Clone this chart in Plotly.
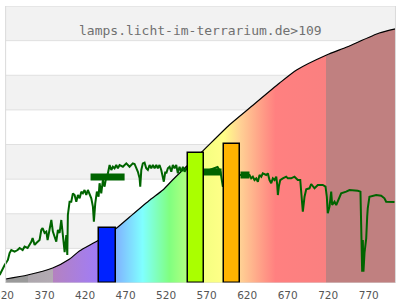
import plotly.graph_objects as go

# ---- data ----
# spectral response curve (area under it is coloured by wavelength)
curve_nm = [322, 349, 380, 401, 413, 437, 459, 475, 500, 516, 528, 547, 564, 598, 623, 660, 681, 718, 743, 783, 803]
curve_val = [0.116, 0.231, 0.433, 0.693, 0.924, 1.242, 1.588, 1.906, 2.397, 2.686, 2.975, 3.408, 3.783,
             4.563, 5.054, 5.776, 6.152, 6.585, 6.816, 7.220, 7.34]

# band bars
bar_nm = [447.8, 556.7, 601.4]
bar_width = [21.4, 19.8, 20.3]
bar_val = [1.58, 3.75, 4.01]
bar_colors = ["#0022ff", "#aaff00", "#ffb400"]

# lamp spectrum (relative intensity)
spec_nm = [314.6, 318.7, 320.8, 324.8, 326.9, 329.0, 333.1, 336.8, 339.3, 343.0, 345.4, 349.1, 353.7, 355.3,
           357.8, 359.9, 363.9, 366.0, 367.6, 370.1, 372.2, 373.8, 376.3, 378.4, 380.3, 382.4, 384.5, 386.5,
           388.6, 390.7, 392.7, 394.8, 396.9, 398.1, 398.8, 399.7, 400.9, 403.0, 405.0, 407.1, 409.2, 411.2,
           413.3, 415.4, 417.3, 419.4, 421.5, 423.5, 425.6, 427.7, 429.7, 430.9, 432.6, 434.6, 436.7, 437.9,
           440.0, 442.0, 444.1, 446.2, 448.2, 450.3, 452.4, 454.3, 456.4, 458.5, 460.5, 462.6, 466.7, 470.9,
           474.9, 479.0, 481.1, 485.2, 487.3, 488.1, 489.4, 491.3, 493.4, 495.5, 497.5, 499.6, 501.7, 503.7,
           505.8, 507.9, 509.8, 511.9, 514.0, 516.0, 517.2, 519.0, 520.2, 522.2, 524.3, 526.4, 528.3, 530.4,
           532.5, 534.5, 536.6, 538.7, 540.7, 542.8, 544.9, 546.8, 556.3, 567.4, 573.6, 579.8, 583.5, 587.2,
           590.0, 600.7, 611.8, 622.9, 625.0, 627.0, 629.1, 631.2, 633.2, 635.3, 637.4, 639.3, 643.5, 645.5,
           647.6, 649.7, 651.7, 653.8, 655.9, 657.1, 657.9, 659.1, 660.8, 664.0, 668.2, 670.2, 674.4, 678.4,
           682.5, 685.5, 686.7, 687.9, 688.7, 690.8, 692.9, 696.9, 699.0, 703.1, 707.2, 713.3, 716.7, 718.3,
           719.5, 721.6, 723.7, 724.9, 727.8, 729.9, 731.8, 733.9, 736.0, 742.2, 746.3, 756.5, 759.8, 760.7,
           761.9, 762.7, 763.5, 764.8, 766.9, 768.1, 768.8, 770.9, 779.2, 785.4, 789.4, 791.5, 799.7, 801.8]
spec_val = [6.7, 12.5, 15, 19.2, 25, 27.5, 26.1, 27.5, 29.2, 27.5, 30.3, 29.2, 34.4, 37.5,
            31.7, 33.3, 35.8, 44.2, 45.8, 41.7, 42.8, 35.8, 45.8, 52.5, 42.8, 37.5, 34.4, 44.2,
            41.7, 52.5, 38.6, 25.8, 40, 23.3, 56.7, 63.6, 67.7, 67.7, 74.7, 73.3, 67.7, 73.3,
            70.6, 76.1, 74.7, 77.5, 73.3, 77.5, 74.7, 70.6, 63.6, 51.1, 66.4, 76.1, 71.9, 83.1,
            74.7, 85.8, 80.3, 88.6, 91.4, 98.3, 94.2, 96.9, 95.6, 98.3, 95.6, 98.3, 96.9, 99.7,
            96.9, 99.7, 99.2, 92.7, 87.2, 80.3, 94.2, 99.7, 100.3, 95.6, 94.2, 98.3, 95.6, 98.3,
            95.6, 98.3, 95.6, 98.3, 94.2, 88.6, 84.4, 92.7, 91.4, 95.6, 96.9, 92.7, 98.3, 95.6,
            98.3, 91.4, 96.9, 92.7, 96.9, 92.7, 95.6, 94.2, 93.3, 92.5, 94.2, 95.6, 96.7, 92.5,
            80.3, 90.8, 90, 90, 87.2, 88.6, 85.8, 87.2, 84.4, 90, 88.6, 91.4, 90, 91.4,
            85.8, 83.1, 87.2, 85.8, 88.6, 81.7, 73.3, 80.3, 85.8, 87.2, 88.6, 87.2, 87.2, 88.6,
            85.8, 85.8, 77.5, 65, 59.4, 71.9, 78.1, 78.9, 82.5, 78.9, 81.7, 81.7, 80.3, 71.9,
            58.1, 63.6, 76.1, 65, 67.7, 65, 67.7, 71.9, 74.7, 76.1, 77.5, 76.9, 76.1, 47.8,
            9.4, 35.8, 9.4, 25, 37.2, 55.3, 62.2, 71.9, 73.3, 72.7, 70.6, 67.7, 67.7, 67.5]

# averaged band levels (thick segments)
band_start = [426.8, 566.2, 611.8]
band_end = [468.8, 588.4, 622.9]
band_level = [88.3, 92.5, 90.0]

tick_vals = [320, 370, 420, 470, 520, 570, 620, 670, 720, 770]
tick_text = [str(v) for v in tick_vals]
title_text = "lamps.licht-im-terrarium.de>109"

# ---- styling ----
X0, X1 = 322, 803
def frac(nm):
    return (nm - X0) / (X1 - X0)

grad_stops = [
    (322, "#9a9a9a"), (349, "#9a9a9a"), (349.6, "#ada7ad"), (380, "#b3abb3"),
    (380.6, "#b482c0"), (437, "#a07cf8"), (459, "#80b4ff"), (491, "#80ffff"),
    (524, "#80ff80"), (547, "#b4ff80"), (566, "#f4ff80"), (591, "#ffff88"),
    (612, "#ffd094"), (640, "#ff9a86"), (655, "#ff8080"), (717, "#fa8080"),
    (717.6, "#c08080"), (803, "#c08080"),
]
colorscale = [[frac(n), c] for n, c in grad_stops]

fig = go.Figure()

fig.add_trace(go.Scatter(
    x=curve_nm, y=curve_val, mode="lines", line=dict(color="black", width=1.2, shape="spline", smoothing=0.6),
    fill="tozeroy", fillgradient=dict(type="horizontal", colorscale=colorscale, start=X0, stop=X1),
    hoverinfo="skip", showlegend=False, xaxis="x", yaxis="y"))

fig.add_trace(go.Scatter(
    x=spec_nm, y=spec_val, mode="lines", line=dict(color="#006400", width=2),
    showlegend=False, xaxis="x", yaxis="y2"))

bx, by = [], []
for s, e, v in zip(band_start, band_end, band_level):
    bx += [s, e, None]
    by += [v, v, None]
fig.add_trace(go.Scatter(
    x=bx, y=by, mode="lines", line=dict(color="#006400", width=7),
    showlegend=False, xaxis="x", yaxis="y2"))

fig.add_trace(go.Bar(
    x=bar_nm, y=bar_val, width=bar_width, marker=dict(color=bar_colors, line=dict(color="black", width=1.5)),
    showlegend=False, xaxis="x", yaxis="y3"))

shapes = []
for k in [1, 3, 5, 7]:
    shapes.append(dict(type="rect", xref="x", yref="y", x0=X0, x1=X1, y0=k, y1=k + 1,
                       fillcolor="#f2f2f2", line=dict(width=0), layer="below"))
for k in range(1, 8):
    shapes.append(dict(type="line", xref="x", yref="y", x0=X0, x1=X1, y0=k, y1=k,
                       line=dict(color="#e0e0e0", width=1), layer="below"))
shapes.append(dict(type="rect", xref="x", yref="y", x0=X0, x1=X1, y0=0, y1=8,
                   line=dict(color="#dadada", width=1), fillcolor="rgba(0,0,0,0)", layer="above"))

px_per_nm = 0.8105
xr0 = 320 - 4 / px_per_nm
xr1 = xr0 + 400 / px_per_nm

fig.update_layout(
    width=400, height=300,
    margin=dict(l=0, r=0, t=6, b=17, autoexpand=False),
    paper_bgcolor="white", plot_bgcolor="white",
    shapes=shapes,
    bargap=0,
    xaxis=dict(range=[xr0, xr1], tickvals=tick_vals, ticktext=tick_text, showgrid=False, zeroline=False,
               showline=False, ticks="", tickfont=dict(family="DejaVu Sans", size=10.5, color="#555555"),
               ticklabeloverflow="allow", automargin=False, ticklabelstandoff=4),
    yaxis=dict(range=[0, 8], showgrid=False, zeroline=False, showticklabels=False, automargin=False),
    yaxis2=dict(range=[0, 230.83], overlaying="y", visible=False),
    yaxis3=dict(range=[0, 8], overlaying="y", visible=False),
    annotations=[dict(text=title_text, xref="paper", yref="paper", x=0.5, y=(283 - 31) / 277,
                      xanchor="center", yanchor="middle", showarrow=False,
                      font=dict(family="DejaVu Sans Mono", size=13, color="#707070"))],
)

fig.write_html("out.html")
